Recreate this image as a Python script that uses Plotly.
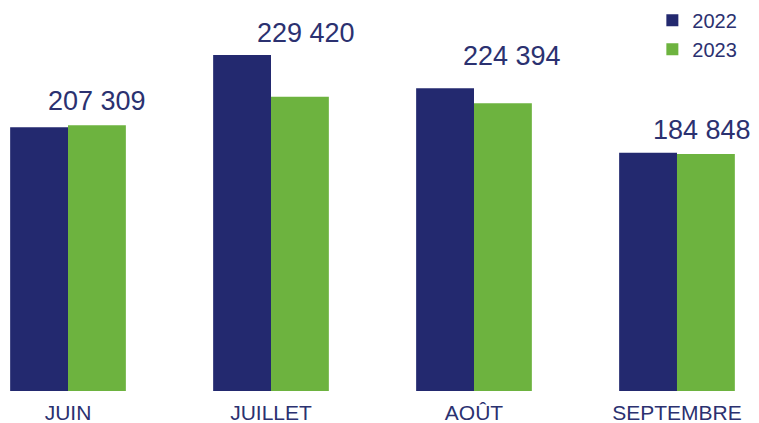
import plotly.graph_objects as go

months = ["JUIN", "JUILLET", "AOÛT", "SEPTEMBRE"]
v2022 = [205700, 262100, 236100, 185900]
v2023 = [207309, 229420, 224394, 184848]
labels = ["207 309", "229 420", "224 394", "184 848"]

navy = "#23296F"
green = "#6DB33F"
textc = "#2B3170"
font = "Liberation Sans, Arial, sans-serif"

label_dx = [29, 35, 38, 25]
label_dy = [24, 22, 32, 23]

fig = go.Figure()
fig.add_trace(go.Bar(x=months, y=v2022, name="2022", marker=dict(color=navy, line=dict(width=0))))
fig.add_trace(go.Bar(x=months, y=v2023, name="2023", marker=dict(color=green, line=dict(width=0))))

for m, a, b, lab, dx, dy in zip(months, v2022, v2023, labels, label_dx, label_dy):
    fig.add_annotation(x=m, y=max(a, b), text=lab, showarrow=False,
                       xshift=dx, yshift=dy, yanchor="middle",
                       font=dict(family=font, size=27, color=textc))

# page body has an 8px default margin, so the figure is sized to fit the window
fig.update_layout(
    width=751, height=415,
    margin=dict(l=0, r=0, t=0, b=32, autoexpand=False),
    paper_bgcolor="white", plot_bgcolor="white",
    barmode="group", bargap=0.43, bargroupgap=0,
    font=dict(family=font, color=textc),
    xaxis=dict(type="category", range=[-0.2956, 3.404], showgrid=False, zeroline=False,
               showline=False, ticks="", ticklabelstandoff=7, automargin=False,
               tickfont=dict(size=21, color=textc)),
    yaxis=dict(range=[0, 298740], visible=False, automargin=False),
    legend=dict(x=0.858, xanchor="left", y=1.019, yanchor="top",
                font=dict(size=20, color=textc), bgcolor="rgba(0,0,0,0)",
                tracegroupgap=0, itemwidth=30),
    showlegend=True,
)

fig.write_html("out.html")
